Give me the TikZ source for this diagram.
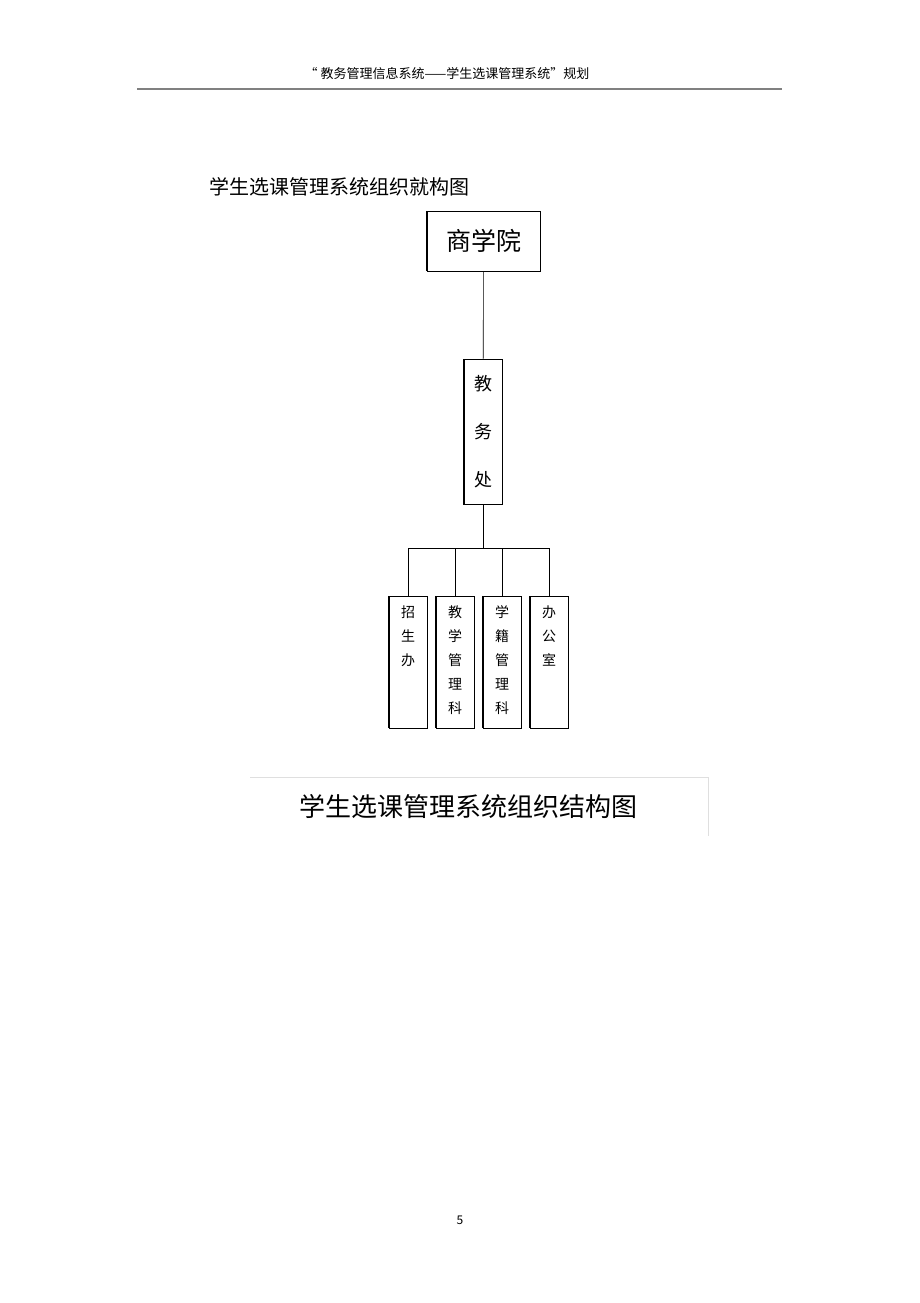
\documentclass[tikz,border=0pt]{standalone}
\usepackage{fontspec}
\newfontfamily\cjk{Noto Sans CJK SC}
\usetikzlibrary{positioning}
\begin{document}
\begin{tikzpicture}[x=1pt, y=-1pt, semithick, font=\cjk,
    unitbox/.style={draw, thin, inner sep=0pt},
    vtext/.style={align=center, font=\cjk\fontsize{14}{24}\selectfont}]
            \useasboundingbox[fill=white] (0,0) rectangle (920,1303);
            % header
            \node[font=\cjk\fontsize{13}{15}\selectfont] (head) at (447,74) {“ 教务管理信息系统——学生选课管理系统”规划};
            \draw[gray, line width=1.2pt] (137,89) -- (782,89);
            \node[font=\cjk\fontsize{20}{22}\selectfont, anchor=west] (title) at (206,187) {学生选课管理系统组织就构图};

            % top levels
            \node[unitbox, minimum width=113pt, minimum height=60pt, font=\cjk\fontsize{25}{27}\selectfont] (sxy) at (483.5,241) {商学院};
            \node[unitbox, minimum width=38pt, minimum height=145pt, align=center, font=\cjk\fontsize{18}{48}\selectfont] (jwc) at (483,432) {教\\务\\处};
            \draw[line width=1.2pt] (sxy.north west) -- (sxy.south west);
            \draw[line width=1.2pt] (jwc.north west) -- (jwc.south west);
            \draw (sxy) -- (jwc);
            \coordinate (bus) at (483,548);
            \draw (jwc) -- (bus);
            \draw (408,548) -- (550,548);

            % departments
            \foreach \n/\x/\t in {zsb/408/招\\生\\办, jxk/455/教\\学\\管\\理\\科, xjk/502/学\\籍\\管\\理\\科, bgs/549/办\\公\\室} {
                \node[unitbox, minimum width=38pt, minimum height=132pt] (\n) at (\x,662) {};
                \node[vtext, anchor=north] at (\x,602) {\t};
                \draw[line width=1.2pt] (\n.north west) -- (\n.south west);
                \draw (\n.north) -- (\x,548);
            }

            % caption
            \draw[gray!25] (250,777) -- (708,777) -- (708,836);
            \node[font=\cjk\fontsize{26}{28}\selectfont] (cap) at (468,807) {学生选课管理系统组织结构图};
            \node[font=\cjk\fontsize{12}{14}\selectfont] (page) at (460,1220) {5};
        \end{tikzpicture}
\end{document}
